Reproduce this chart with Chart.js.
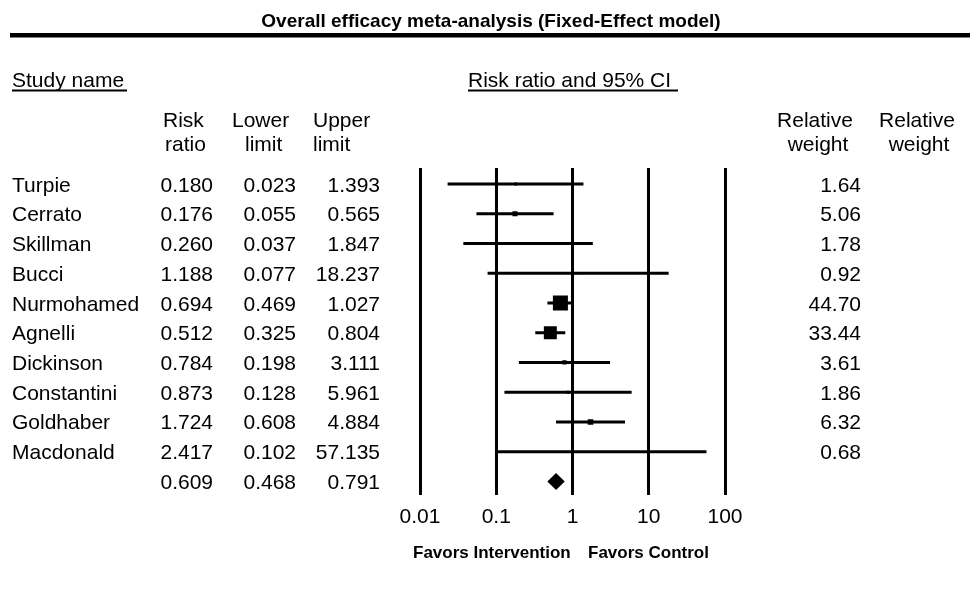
<!DOCTYPE html>
<html>
<head>
<meta charset="utf-8">
<script src="https://cdn.jsdelivr.net/npm/chart.js@4"></script>
<style>
  html, body { margin: 0; padding: 0; background: #fff; }
  #wrap { width: 970px; height: 591px; position: relative; }
</style>
</head>
<body>
<div id="wrap"><canvas id="forest" width="970" height="591"></canvas></div>
<script>
const studies = ["Turpie", "Cerrato", "Skillman", "Bucci", "Nurmohamed", "Agnelli", "Dickinson", "Constantini", "Goldhaber", "Macdonald"];
const riskRatio = [0.180, 0.176, 0.260, 1.188, 0.694, 0.512, 0.784, 0.873, 1.724, 2.417];
const lowerLimit = [0.023, 0.055, 0.037, 0.077, 0.469, 0.325, 0.198, 0.128, 0.608, 0.102];
const upperLimit = [1.393, 0.565, 1.847, 18.237, 1.027, 0.804, 3.111, 5.961, 4.884, 57.135];
const relWeight = [1.64, 5.06, 1.78, 0.92, 44.70, 33.44, 3.61, 1.86, 6.32, 0.68];
const summary = { rr: 0.609, lower: 0.468, upper: 0.791 };
const xTicks = [0.01, 0.1, 1, 10, 100];

const FONT = "'Liberation Sans', Arial, sans-serif";
Chart.defaults.font.family = FONT;
Chart.defaults.color = "#000";

const ciDatasets = studies.map((name, i) => ({
  type: "line", label: name,
  data: [{ x: lowerLimit[i], y: i }, { x: upperLimit[i], y: i }],
  borderColor: "#000", borderWidth: 3, pointRadius: 0, borderCapStyle: "butt"
}));

// square side grows with sqrt of weight, biggest study ~15px
const maxW = Math.max(...relWeight);
const squareRadius = relWeight.map((w) => Math.max(2, 15 * Math.sqrt(w / maxW)) / Math.SQRT2);

const pointDataset = {
  type: "scatter", label: "Risk ratio",
  data: riskRatio.map((rr, i) => ({ x: rr, y: i })),
  pointStyle: "rect", pointRadius: squareRadius, pointHoverRadius: squareRadius,
  backgroundColor: "#000", borderColor: "#000", borderWidth: 0
};

const tablePlugin = {
  id: "forestTable",
  afterDraw(chart) {
    const { ctx } = chart;
    const xs = chart.scales.x, ys = chart.scales.y;
    ctx.save();
    ctx.fillStyle = "#000";
    ctx.strokeStyle = "#000";

    // summary diamond
    const sy = ys.getPixelForValue(studies.length);
    ctx.beginPath();
    ctx.moveTo(xs.getPixelForValue(summary.lower), sy);
    ctx.lineTo(xs.getPixelForValue(summary.rr), sy - 8.5);
    ctx.lineTo(xs.getPixelForValue(summary.upper), sy);
    ctx.lineTo(xs.getPixelForValue(summary.rr), sy + 8.5);
    ctx.closePath();
    ctx.fill();

    // title and rule
    ctx.font = "bold 19px " + FONT;
    ctx.textAlign = "center";
    ctx.textBaseline = "alphabetic";
    ctx.fillText("Overall efficacy meta-analysis (Fixed-Effect model)", 491, 27);
    ctx.fillRect(10, 33, 960, 4.5);

    ctx.font = "21px " + FONT;
    ctx.textAlign = "left";
    ctx.fillText("Study name", 12, 87);
    ctx.fillRect(12, 89.5, 115, 2);
    ctx.fillText("Risk ratio and 95% CI", 468, 87);
    ctx.fillRect(468, 89.5, 210, 2);

    ctx.fillText("Risk", 163, 127);
    ctx.fillText("ratio", 165, 151);
    ctx.fillText("Lower", 232, 127);
    ctx.fillText("limit", 245, 151);
    ctx.fillText("Upper", 313, 127);
    ctx.fillText("limit", 313, 151);
    ctx.textAlign = "center";
    ctx.fillText("Relative", 815, 127);
    ctx.fillText("weight", 818, 151);
    ctx.fillText("Relative", 917, 127);
    ctx.fillText("weight", 919, 151);

    const rows = studies.concat([""]);
    rows.forEach((name, i) => {
      const base = ys.getPixelForValue(i) + 7.5;
      const isSum = i === studies.length;
      ctx.textAlign = "left";
      ctx.fillText(name, 12, base);
      ctx.textAlign = "right";
      ctx.fillText((isSum ? summary.rr : riskRatio[i]).toFixed(3), 213, base);
      ctx.fillText((isSum ? summary.lower : lowerLimit[i]).toFixed(3), 296, base);
      ctx.fillText((isSum ? summary.upper : upperLimit[i]).toFixed(3), 380, base);
      if (!isSum) ctx.fillText(relWeight[i].toFixed(2), 861, base);
    });

    ctx.font = "bold 17px " + FONT;
    ctx.textAlign = "left";
    ctx.fillText("Favors Intervention", 413, 558);
    ctx.fillText("Favors Control", 588, 558);
    ctx.restore();
  }
};

new Chart(document.getElementById("forest"), {
  data: { datasets: [...ciDatasets, pointDataset] },
  options: {
    responsive: false, animation: false, events: [],
    layout: { padding: { left: 420, right: 245, top: 168, bottom: 51 } },
    plugins: { legend: { display: false }, tooltip: { enabled: false } },
    scales: {
      x: {
        type: "logarithmic", min: 0.01, max: 100,
        afterBuildTicks: (axis) => { axis.ticks = xTicks.map((v) => ({ value: v })); },
        grid: { color: "#000", lineWidth: 3, drawTicks: false },
        border: { display: false },
        ticks: { font: { size: 21 }, color: "#000", padding: 10, maxRotation: 0,
          callback: (v) => String(v) }
      },
      y: { type: "linear", min: -0.54, max: 10.45, reverse: true, display: false }
    }
  },
  plugins: [tablePlugin]
});
</script>
</body>
</html>
